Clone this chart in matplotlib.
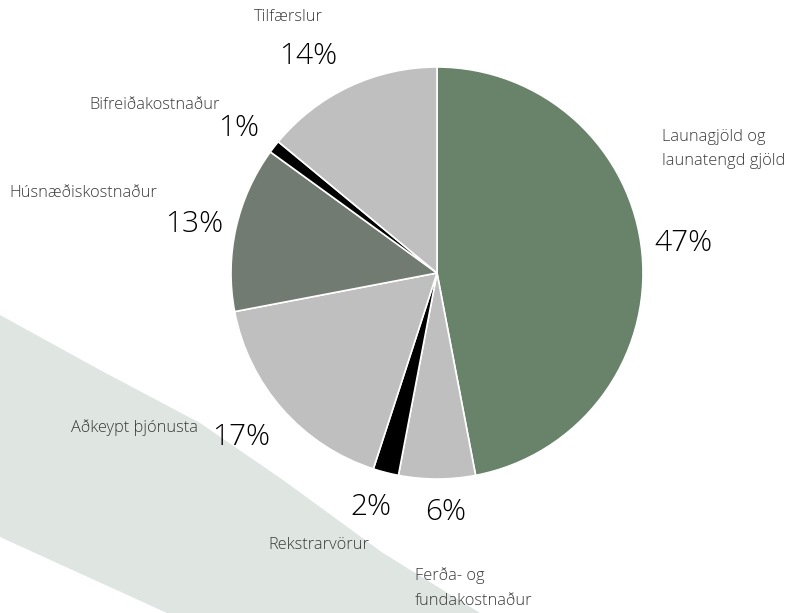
import matplotlib
matplotlib.use("Agg")
import matplotlib.pyplot as plt
from matplotlib.patches import Polygon

categories = ["Launagjöld og\nlaunatengd gjöld", "Ferða- og\nfundakostnaður", "Rekstrarvörur",
              "Aðkeypt þjónusta", "Húsnæðiskostnaður", "Bifreiðakostnaður", "Tilfærslur"]
values = [47, 6, 2, 17, 13, 1, 14]
colors = ["#68836a", "#bfbfbf", "#000000", "#bfbfbf", "#717b72", "#000000", "#bfbfbf"]

W, H = 806, 613
fig = plt.figure(figsize=(W / 100, H / 100), dpi=100)
ax = fig.add_axes([0, 0, 1, 1])

def P(x, y):
    return (x, H - y)

# background band
band = [P(0, 315), P(100, 370), P(200, 423), P(283, 480), P(383, 553), P(480, 613),
        P(167, 613), P(0, 537)]
ax.add_patch(Polygon(band, closed=True, facecolor="#dfe5e1", edgecolor="none", zorder=0))

cx, cy = P(437, 273)
ax.pie(values, colors=colors, startangle=90, counterclock=False,
       center=(cx, cy), radius=206, frame=True,
       wedgeprops=dict(edgecolor="white", linewidth=1.2))
ax.set_xlim(0, W)
ax.set_ylim(0, H)
ax.set_aspect("equal")
ax.axis("off")

font = "Open Sans"
lab_kw = dict(fontsize=11.8, color="#3a3a3a", family=font, fontweight="light")
pct_kw = dict(fontsize=21.5, color="#000000", family=font, fontweight="light")

# label layout: (x, y, ha) for category and for percentage
label_pos = [(662, 149, "left"), (415, 588, "left"), (319, 545, "center"),
             (198, 428, "right"), (83, 193, "center"), (155, 105, "center"),
             (288, 17, "center")]
pct_pos = [(683, 243), (446, 512), (371, 507), (241, 437), (194, 224), (239, 128), (308, 56)]

for cat, v, (lx, ly, ha), (px, py) in zip(categories, values, label_pos, pct_pos):
    ax.text(*P(lx, ly), cat, ha=ha, va="center", linespacing=1.7, **lab_kw)
    ax.text(*P(px, py), f"{v}%", ha="center", va="center", **pct_kw)

fig.savefig("out.png", dpi=100)
